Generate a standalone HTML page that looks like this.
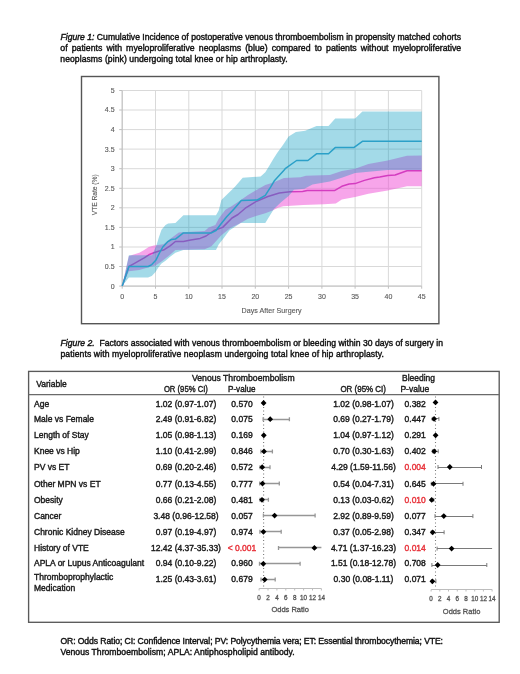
<!DOCTYPE html>
<html><head><meta charset="utf-8"><style>
html,body{margin:0;padding:0;background:#fff;}
body{width:520px;height:674px;overflow:hidden;position:relative;}
svg{position:absolute;left:0;top:0;will-change:transform;}
text{font-family:"Liberation Sans",sans-serif;stroke-width:0.4px;}
</style></head><body>
<svg width="520" height="674" viewBox="0 0 520 674">
<text x="60.5" y="39.8" font-size="8.60" fill="#111" stroke="#111" textLength="400.5" lengthAdjust="spacing" ><tspan font-style="italic">Figure 1:</tspan> Cumulative Incidence of postoperative venous thromboembolism in propensity matched cohorts</text>
<text x="60.3" y="51.0" font-size="8.75" fill="#111" stroke="#111" word-spacing="1.67">of patients with myeloproliferative neoplasms (blue) compared to patients without myeloproliferative</text>
<text x="60.3" y="62.0" font-size="8.60" fill="#111" stroke="#111" textLength="227.4" lengthAdjust="spacing" >neoplasms (pink) undergoing total knee or hip arthroplasty.</text>
<rect x="81.5" y="76.5" width="357.4" height="247.2" fill="#fff" stroke="#555" stroke-width="1.4"/>
<path d="M122.2 286.1H421.7M122.2 266.5H421.7M122.2 247.0H421.7M122.2 227.4H421.7M122.2 207.8H421.7M122.2 188.3H421.7M122.2 168.7H421.7M122.2 149.1H421.7M122.2 129.6H421.7M122.2 110.0H421.7M122.2 90.5H421.7M122.2 90.5V286.1M155.5 90.5V286.1M188.8 90.5V286.1M222.0 90.5V286.1M255.3 90.5V286.1M288.6 90.5V286.1M321.9 90.5V286.1M355.1 90.5V286.1M388.4 90.5V286.1M421.7 90.5V286.1" stroke="#d9d9d9" stroke-width="1" fill="none"/>
<polygon points="122.2,286.1 128.9,256.0 139.3,252.8 144.2,250.1 148.8,247.0 153.8,245.4 163.5,244.2 170.1,239.1 178.8,232.5 204.7,230.9 208.7,227.4 215.4,225.1 218.7,218.8 225.4,209.8 230.7,206.7 238.7,201.6 248.0,194.9 256.0,190.2 265.3,185.1 273.3,182.4 283.9,178.1 300.6,177.3 305.9,175.8 329.8,175.0 341.8,171.1 355.1,168.7 368.4,164.0 387.7,160.5 407.0,155.8 421.7,155.4 421.7,186.3 407.0,186.3 387.7,190.6 368.4,193.8 355.1,196.9 341.8,199.6 335.8,203.5 323.8,204.3 303.2,205.1 283.3,206.3 277.9,207.8 272.6,210.6 265.3,213.3 256.0,216.1 248.0,218.8 238.7,223.9 230.7,227.8 221.4,235.2 211.4,246.2 204.7,249.3 175.4,250.1 170.1,254.8 161.5,261.4 155.5,265.4 148.8,267.3 139.3,270.1 128.9,271.2 122.2,286.1" fill="#f04bd5" fill-opacity="0.5"/>
<polyline points="122.2,286.1 128.9,266.5 134.5,263.4 139.3,260.7 144.2,257.9 148.8,254.8 153.8,252.8 158.5,251.3 163.5,250.1 170.1,245.8 175.4,241.5 183.4,241.5 190.7,239.9 200.1,238.4 206.1,236.0 214.0,230.5 222.7,227.4 232.0,218.0 238.0,214.5 245.3,208.2 256.6,201.2 267.9,196.5 279.3,193.0 289.9,191.8 302.6,191.4 307.2,190.6 334.5,190.6 341.8,186.3 349.1,184.0 355.1,183.6 364.4,180.4 374.4,177.7 379.7,176.9 387.7,175.4 395.1,175.0 407.0,170.7 421.7,170.7" fill="none" stroke="#d43cc0" stroke-width="1.5" stroke-linejoin="round"/>
<polygon points="122.2,286.1 128.9,255.2 152.1,255.2 156.8,244.2 158.8,237.6 161.5,229.8 165.5,225.1 168.1,223.5 175.4,223.1 183.4,215.3 216.0,215.3 218.7,210.6 221.4,200.0 234.7,187.1 242.7,177.7 260.6,176.5 265.3,172.2 269.9,164.8 273.3,158.9 277.3,152.7 283.3,144.4 288.6,136.6 295.9,131.9 305.2,130.8 316.5,126.1 328.5,126.1 335.2,118.6 355.1,118.6 362.4,111.6 421.7,111.6 421.7,169.9 387.7,169.9 355.1,173.0 341.8,177.7 329.8,181.6 312.5,184.4 304.5,188.7 293.9,189.8 288.6,196.1 281.3,202.0 273.9,209.0 265.3,223.1 240.7,223.1 229.3,230.5 223.4,238.4 218.7,244.6 216.0,250.1 183.4,250.1 175.4,252.8 170.1,256.8 165.5,260.7 161.5,263.4 158.5,267.3 155.5,272.0 151.8,275.9 148.0,277.5 128.9,277.5 122.2,286.1" fill="#0098bf" fill-opacity="0.36"/>
<path d="M122.2 90.5V286.1M122.2 286.1H421.7M122.2 286.1h-3M122.2 266.5h-3M122.2 247.0h-3M122.2 227.4h-3M122.2 207.8h-3M122.2 188.3h-3M122.2 168.7h-3M122.2 149.1h-3M122.2 129.6h-3M122.2 110.0h-3M122.2 90.5h-3M122.2 286.1v2.6M155.5 286.1v2.6M188.8 286.1v2.6M222.0 286.1v2.6M255.3 286.1v2.6M288.6 286.1v2.6M321.9 286.1v2.6M355.1 286.1v2.6M388.4 286.1v2.6M421.7 286.1v2.6" stroke="#bfbfbf" stroke-width="1" fill="none"/>
<polyline points="122.2,286.1 128.9,266.5 148.2,266.5 151.8,264.6 155.8,260.3 159.5,252.8 162.8,247.0 167.5,241.9 171.4,239.5 175.4,239.1 183.4,232.9 211.4,232.9 216.0,230.5 220.7,224.3 226.7,216.8 234.0,209.0 241.3,200.4 257.3,200.0 265.3,195.3 270.6,187.1 274.6,180.4 283.3,171.1 285.2,168.7 296.6,160.5 307.9,160.5 316.5,153.8 328.5,153.8 335.2,147.6 353.8,147.6 362.4,141.3 421.7,141.3" fill="none" stroke="#2ba0c8" stroke-width="1.5" stroke-linejoin="round"/>
<text x="114.6" y="288.5" font-size="7.00" fill="#595959" stroke="#595959" style="stroke-width:0.12px" text-anchor="end">0</text>
<text x="114.6" y="268.9" font-size="7.00" fill="#595959" stroke="#595959" style="stroke-width:0.12px" text-anchor="end">0.5</text>
<text x="114.6" y="249.4" font-size="7.00" fill="#595959" stroke="#595959" style="stroke-width:0.12px" text-anchor="end">1</text>
<text x="114.6" y="229.8" font-size="7.00" fill="#595959" stroke="#595959" style="stroke-width:0.12px" text-anchor="end">1.5</text>
<text x="114.6" y="210.2" font-size="7.00" fill="#595959" stroke="#595959" style="stroke-width:0.12px" text-anchor="end">2</text>
<text x="114.6" y="190.7" font-size="7.00" fill="#595959" stroke="#595959" style="stroke-width:0.12px" text-anchor="end">2.5</text>
<text x="114.6" y="171.1" font-size="7.00" fill="#595959" stroke="#595959" style="stroke-width:0.12px" text-anchor="end">3</text>
<text x="114.6" y="151.5" font-size="7.00" fill="#595959" stroke="#595959" style="stroke-width:0.12px" text-anchor="end">3.5</text>
<text x="114.6" y="132.0" font-size="7.00" fill="#595959" stroke="#595959" style="stroke-width:0.12px" text-anchor="end">4</text>
<text x="114.6" y="112.4" font-size="7.00" fill="#595959" stroke="#595959" style="stroke-width:0.12px" text-anchor="end">4.5</text>
<text x="114.6" y="92.9" font-size="7.00" fill="#595959" stroke="#595959" style="stroke-width:0.12px" text-anchor="end">5</text>
<text x="122.2" y="298.8" font-size="7.00" fill="#595959" stroke="#595959" style="stroke-width:0.12px" text-anchor="middle">0</text>
<text x="155.5" y="298.8" font-size="7.00" fill="#595959" stroke="#595959" style="stroke-width:0.12px" text-anchor="middle">5</text>
<text x="188.8" y="298.8" font-size="7.00" fill="#595959" stroke="#595959" style="stroke-width:0.12px" text-anchor="middle">10</text>
<text x="222.0" y="298.8" font-size="7.00" fill="#595959" stroke="#595959" style="stroke-width:0.12px" text-anchor="middle">15</text>
<text x="255.3" y="298.8" font-size="7.00" fill="#595959" stroke="#595959" style="stroke-width:0.12px" text-anchor="middle">20</text>
<text x="288.6" y="298.8" font-size="7.00" fill="#595959" stroke="#595959" style="stroke-width:0.12px" text-anchor="middle">25</text>
<text x="321.9" y="298.8" font-size="7.00" fill="#595959" stroke="#595959" style="stroke-width:0.12px" text-anchor="middle">30</text>
<text x="355.1" y="298.8" font-size="7.00" fill="#595959" stroke="#595959" style="stroke-width:0.12px" text-anchor="middle">35</text>
<text x="388.4" y="298.8" font-size="7.00" fill="#595959" stroke="#595959" style="stroke-width:0.12px" text-anchor="middle">40</text>
<text x="421.7" y="298.8" font-size="7.00" fill="#595959" stroke="#595959" style="stroke-width:0.12px" text-anchor="middle">45</text>
<text x="271.6" y="312.7" font-size="7.1" fill="#595959" stroke="#595959" style="stroke-width:0.12px" text-anchor="middle" textLength="60" lengthAdjust="spacing">Days After Surgery</text>
<text transform="translate(97.2,194.8) rotate(-90)" x="0" y="0" font-size="6.7" fill="#595959" stroke="#595959" style="stroke-width:0.12px" text-anchor="middle" textLength="41" lengthAdjust="spacing">VTE Rate (%)</text>
<text x="60.6" y="345.9" font-size="8.60" fill="#111" stroke="#111" textLength="382.4" lengthAdjust="spacing" xml:space="preserve"><tspan font-style="italic">Figure 2.</tspan>  Factors associated with venous thromboembolism or bleeding within 30 days of surgery in</text>
<text x="60.4" y="356.9" font-size="8.60" fill="#111" stroke="#111" textLength="323.5" lengthAdjust="spacing" >patients with myeloproliferative neoplasm undergoing total knee of hip arthroplasty.</text>
<rect x="28.6" y="371.4" width="470.6" height="250.9" fill="none" stroke="#5a5a5a" stroke-width="1.35"/>
<path d="M28.6 394.7H499.2" stroke="#6a6a6a" stroke-width="1.2"/>
<text x="36.2" y="386.6" font-size="8.50" fill="#1a1a1a" stroke="#1a1a1a" text-anchor="start">Variable</text>
<text x="192.0" y="380.6" font-size="8.50" fill="#1a1a1a" stroke="#1a1a1a" text-anchor="start" textLength="102.6" lengthAdjust="spacingAndGlyphs">Venous Thromboembolism</text>
<text x="163.9" y="391.8" font-size="8.50" fill="#1a1a1a" stroke="#1a1a1a" text-anchor="start" textLength="44.0" lengthAdjust="spacingAndGlyphs">OR (95% CI)</text>
<text x="228.0" y="391.8" font-size="8.50" fill="#1a1a1a" stroke="#1a1a1a" text-anchor="start" textLength="27.5" lengthAdjust="spacingAndGlyphs">P-value</text>
<text x="402.0" y="380.6" font-size="8.50" fill="#1a1a1a" stroke="#1a1a1a" text-anchor="start" textLength="33.0" lengthAdjust="spacingAndGlyphs">Bleeding</text>
<text x="340.4" y="391.8" font-size="8.50" fill="#1a1a1a" stroke="#1a1a1a" text-anchor="start" textLength="45.6" lengthAdjust="spacingAndGlyphs">OR (95% CI)</text>
<text x="400.4" y="391.8" font-size="8.50" fill="#1a1a1a" stroke="#1a1a1a" text-anchor="start" textLength="28.9" lengthAdjust="spacingAndGlyphs">P-value</text>
<text x="34.0" y="406.6" font-size="8.50" fill="#1a1a1a" stroke="#1a1a1a" text-anchor="start">Age</text>
<text x="186.0" y="406.6" font-size="8.50" fill="#1a1a1a" stroke="#1a1a1a" text-anchor="middle">1.02 (0.97-1.07)</text>
<text x="242.0" y="406.6" font-size="8.50" fill="#1a1a1a" stroke="#1a1a1a" text-anchor="middle">0.570</text>
<text x="363.5" y="406.6" font-size="8.50" fill="#1a1a1a" stroke="#1a1a1a" text-anchor="middle">1.02 (0.98-1.07)</text>
<text x="415.2" y="406.6" font-size="8.50" fill="#1a1a1a" stroke="#1a1a1a" text-anchor="middle">0.382</text>
<text x="34.0" y="422.0" font-size="8.50" fill="#1a1a1a" stroke="#1a1a1a" text-anchor="start">Male vs Female</text>
<text x="186.0" y="422.0" font-size="8.50" fill="#1a1a1a" stroke="#1a1a1a" text-anchor="middle">2.49 (0.91-6.82)</text>
<text x="242.0" y="422.0" font-size="8.50" fill="#1a1a1a" stroke="#1a1a1a" text-anchor="middle">0.075</text>
<text x="363.5" y="422.0" font-size="8.50" fill="#1a1a1a" stroke="#1a1a1a" text-anchor="middle">0.69 (0.27-1.79)</text>
<text x="415.2" y="422.0" font-size="8.50" fill="#1a1a1a" stroke="#1a1a1a" text-anchor="middle">0.447</text>
<text x="34.0" y="438.4" font-size="8.50" fill="#1a1a1a" stroke="#1a1a1a" text-anchor="start">Length of Stay</text>
<text x="186.0" y="438.4" font-size="8.50" fill="#1a1a1a" stroke="#1a1a1a" text-anchor="middle">1.05 (0.98-1.13)</text>
<text x="242.0" y="438.4" font-size="8.50" fill="#1a1a1a" stroke="#1a1a1a" text-anchor="middle">0.169</text>
<text x="363.5" y="438.4" font-size="8.50" fill="#1a1a1a" stroke="#1a1a1a" text-anchor="middle">1.04 (0.97-1.12)</text>
<text x="415.2" y="438.4" font-size="8.50" fill="#1a1a1a" stroke="#1a1a1a" text-anchor="middle">0.291</text>
<text x="34.0" y="454.3" font-size="8.50" fill="#1a1a1a" stroke="#1a1a1a" text-anchor="start">Knee vs Hip</text>
<text x="186.0" y="454.3" font-size="8.50" fill="#1a1a1a" stroke="#1a1a1a" text-anchor="middle">1.10 (0.41-2.99)</text>
<text x="242.0" y="454.3" font-size="8.50" fill="#1a1a1a" stroke="#1a1a1a" text-anchor="middle">0.846</text>
<text x="363.5" y="454.3" font-size="8.50" fill="#1a1a1a" stroke="#1a1a1a" text-anchor="middle">0.70 (0.30-1.63)</text>
<text x="415.2" y="454.3" font-size="8.50" fill="#1a1a1a" stroke="#1a1a1a" text-anchor="middle">0.402</text>
<text x="34.0" y="470.3" font-size="8.50" fill="#1a1a1a" stroke="#1a1a1a" text-anchor="start">PV vs ET</text>
<text x="186.0" y="470.3" font-size="8.50" fill="#1a1a1a" stroke="#1a1a1a" text-anchor="middle">0.69 (0.20-2.46)</text>
<text x="242.0" y="470.3" font-size="8.50" fill="#1a1a1a" stroke="#1a1a1a" text-anchor="middle">0.572</text>
<text x="363.5" y="470.3" font-size="8.50" fill="#1a1a1a" stroke="#1a1a1a" text-anchor="middle">4.29 (1.59-11.56)</text>
<text x="415.2" y="470.3" font-size="8.50" fill="#e8333b" stroke="#e8333b" text-anchor="middle">0.004</text>
<text x="34.0" y="486.5" font-size="8.50" fill="#1a1a1a" stroke="#1a1a1a" text-anchor="start">Other MPN vs ET</text>
<text x="186.0" y="486.5" font-size="8.50" fill="#1a1a1a" stroke="#1a1a1a" text-anchor="middle">0.77 (0.13-4.55)</text>
<text x="242.0" y="486.5" font-size="8.50" fill="#1a1a1a" stroke="#1a1a1a" text-anchor="middle">0.777</text>
<text x="363.5" y="486.5" font-size="8.50" fill="#1a1a1a" stroke="#1a1a1a" text-anchor="middle">0.54 (0.04-7.31)</text>
<text x="415.2" y="486.5" font-size="8.50" fill="#1a1a1a" stroke="#1a1a1a" text-anchor="middle">0.645</text>
<text x="34.0" y="502.6" font-size="8.50" fill="#1a1a1a" stroke="#1a1a1a" text-anchor="start">Obesity</text>
<text x="186.0" y="502.6" font-size="8.50" fill="#1a1a1a" stroke="#1a1a1a" text-anchor="middle">0.66 (0.21-2.08)</text>
<text x="242.0" y="502.6" font-size="8.50" fill="#1a1a1a" stroke="#1a1a1a" text-anchor="middle">0.481</text>
<text x="363.5" y="502.6" font-size="8.50" fill="#1a1a1a" stroke="#1a1a1a" text-anchor="middle">0.13 (0.03-0.62)</text>
<text x="415.2" y="502.6" font-size="8.50" fill="#e8333b" stroke="#e8333b" text-anchor="middle">0.010</text>
<text x="34.0" y="518.6" font-size="8.50" fill="#1a1a1a" stroke="#1a1a1a" text-anchor="start">Cancer</text>
<text x="186.0" y="518.6" font-size="8.50" fill="#1a1a1a" stroke="#1a1a1a" text-anchor="middle">3.48 (0.96-12.58)</text>
<text x="242.0" y="518.6" font-size="8.50" fill="#1a1a1a" stroke="#1a1a1a" text-anchor="middle">0.057</text>
<text x="363.5" y="518.6" font-size="8.50" fill="#1a1a1a" stroke="#1a1a1a" text-anchor="middle">2.92 (0.89-9.59)</text>
<text x="415.2" y="518.6" font-size="8.50" fill="#1a1a1a" stroke="#1a1a1a" text-anchor="middle">0.077</text>
<text x="34.0" y="534.5" font-size="8.50" fill="#1a1a1a" stroke="#1a1a1a" text-anchor="start">Chronic Kidney Disease</text>
<text x="186.0" y="534.5" font-size="8.50" fill="#1a1a1a" stroke="#1a1a1a" text-anchor="middle">0.97 (0.19-4.97)</text>
<text x="242.0" y="534.5" font-size="8.50" fill="#1a1a1a" stroke="#1a1a1a" text-anchor="middle">0.974</text>
<text x="363.5" y="534.5" font-size="8.50" fill="#1a1a1a" stroke="#1a1a1a" text-anchor="middle">0.37 (0.05-2.98)</text>
<text x="415.2" y="534.5" font-size="8.50" fill="#1a1a1a" stroke="#1a1a1a" text-anchor="middle">0.347</text>
<text x="34.0" y="550.7" font-size="8.50" fill="#1a1a1a" stroke="#1a1a1a" text-anchor="start">History of VTE</text>
<text x="186.0" y="550.7" font-size="8.50" fill="#1a1a1a" stroke="#1a1a1a" text-anchor="middle">12.42 (4.37-35.33)</text>
<text x="242.0" y="550.7" font-size="8.50" fill="#e8333b" stroke="#e8333b" text-anchor="middle">&lt; 0.001</text>
<text x="363.5" y="550.7" font-size="8.50" fill="#1a1a1a" stroke="#1a1a1a" text-anchor="middle">4.71 (1.37-16.23)</text>
<text x="415.2" y="550.7" font-size="8.50" fill="#e8333b" stroke="#e8333b" text-anchor="middle">0.014</text>
<text x="34.0" y="565.5" font-size="8.50" fill="#1a1a1a" stroke="#1a1a1a" text-anchor="start">APLA or Lupus Anticoagulant</text>
<text x="186.0" y="565.5" font-size="8.50" fill="#1a1a1a" stroke="#1a1a1a" text-anchor="middle">0.94 (0.10-9.22)</text>
<text x="242.0" y="565.5" font-size="8.50" fill="#1a1a1a" stroke="#1a1a1a" text-anchor="middle">0.960</text>
<text x="363.5" y="565.5" font-size="8.50" fill="#1a1a1a" stroke="#1a1a1a" text-anchor="middle">1.51 (0.18-12.78)</text>
<text x="415.2" y="565.5" font-size="8.50" fill="#1a1a1a" stroke="#1a1a1a" text-anchor="middle">0.708</text>
<text x="34.0" y="579.9" font-size="8.50" fill="#1a1a1a" stroke="#1a1a1a" text-anchor="start">Thromboprophylactic</text>
<text x="34.0" y="591.4" font-size="8.50" fill="#1a1a1a" stroke="#1a1a1a" text-anchor="start">Medication</text>
<text x="186.0" y="582.3" font-size="8.50" fill="#1a1a1a" stroke="#1a1a1a" text-anchor="middle">1.25 (0.43-3.61)</text>
<text x="242.0" y="582.3" font-size="8.50" fill="#1a1a1a" stroke="#1a1a1a" text-anchor="middle">0.679</text>
<text x="363.5" y="582.3" font-size="8.50" fill="#1a1a1a" stroke="#1a1a1a" text-anchor="middle">0.30 (0.08-1.11)</text>
<text x="415.2" y="582.3" font-size="8.50" fill="#1a1a1a" stroke="#1a1a1a" text-anchor="middle">0.071</text>
<path d="M263.6 396.5V588M435.5 396.5V589" stroke="#7a7a7a" stroke-width="1.1" stroke-dasharray="1.1,2.4"/>
<path d="M263.4 403.5H263.9M263.4 401.0V405.0M263.9 401.0V405.0M263.1 419.5H289.4M263.1 417.2V421.2M289.4 417.2V421.2M263.5 435.5H264.1M263.5 433.3V437.3M264.1 433.3V437.3M260.9 451.5H272.4M260.9 449.4V453.4M272.4 449.4V453.4M260.0 467.5H270.0M260.0 465.2V469.2M270.0 465.2V469.2M259.7 483.5H279.3M259.7 481.6V485.6M279.3 481.6V485.6M260.0 499.5H268.4M260.0 497.8V501.8M268.4 497.8V501.8M263.4 515.5H315.1M263.4 513.6V517.6M315.1 513.6V517.6M259.9 531.5H281.2M259.9 529.8V533.8M281.2 529.8V533.8M278.5 547.5H321.4M278.5 545.9V549.9M259.5 563.5H300.1M259.5 561.8V565.8M300.1 561.8V565.8M261.0 579.5H275.2M261.0 577.6V581.6M275.2 577.6V581.6" stroke="#969696" stroke-width="1.3" fill="none"/>
<path d="M435.4 402.5H435.8M435.4 400.4V404.4M435.8 400.4V404.4M432.3 418.5H438.9M432.3 416.9V420.9M438.9 416.9V420.9M435.3 435.5H436.0M435.3 433.3V437.3M436.0 433.3V437.3M432.4 451.5H438.2M432.4 449.3V453.3M438.2 449.3V453.3M438.0 467.5H481.5M438.0 465.0V469.0M481.5 465.0V469.0M431.3 483.5H463.0M431.3 481.8V485.8M463.0 481.8V485.8M431.2 499.5H433.8M431.2 497.9V501.9M433.8 497.9V501.9M435.0 516.5H472.9M435.0 514.1V518.1M472.9 514.1V518.1M431.3 532.5H444.1M431.3 530.3V534.3M444.1 530.3V534.3M437.1 548.5H492.1M437.1 546.6V550.6M431.9 565.5H486.8M431.9 563.0V567.0M486.8 563.0V567.0M431.4 581.5H435.9M431.4 579.3V583.3M435.9 579.3V583.3" stroke="#7a7a7a" stroke-width="1.0" fill="none"/>
<path d="M263.6 400.1l2.9 2.9l-2.9 2.9l-2.9 -2.9zM435.5 399.5l2.9 2.9l-2.9 2.9l-2.9 -2.9zM270.2 416.3l2.9 2.9l-2.9 2.9l-2.9 -2.9zM434.1 416.0l2.9 2.9l-2.9 2.9l-2.9 -2.9zM263.8 432.4l2.9 2.9l-2.9 2.9l-2.9 -2.9zM435.6 432.4l2.9 2.9l-2.9 2.9l-2.9 -2.9zM264.0 448.5l2.9 2.9l-2.9 2.9l-2.9 -2.9zM434.2 448.4l2.9 2.9l-2.9 2.9l-2.9 -2.9zM262.2 464.3l2.9 2.9l-2.9 2.9l-2.9 -2.9zM449.8 464.1l2.9 2.9l-2.9 2.9l-2.9 -2.9zM262.5 480.7l2.9 2.9l-2.9 2.9l-2.9 -2.9zM433.5 480.9l2.9 2.9l-2.9 2.9l-2.9 -2.9zM262.0 496.9l2.9 2.9l-2.9 2.9l-2.9 -2.9zM431.7 497.0l2.9 2.9l-2.9 2.9l-2.9 -2.9zM274.6 512.7l2.9 2.9l-2.9 2.9l-2.9 -2.9zM443.8 513.2l2.9 2.9l-2.9 2.9l-2.9 -2.9zM263.4 528.9l2.9 2.9l-2.9 2.9l-2.9 -2.9zM432.7 529.4l2.9 2.9l-2.9 2.9l-2.9 -2.9zM314.4 545.0l2.9 2.9l-2.9 2.9l-2.9 -2.9zM451.6 545.7l2.9 2.9l-2.9 2.9l-2.9 -2.9zM263.3 560.9l2.9 2.9l-2.9 2.9l-2.9 -2.9zM437.7 562.1l2.9 2.9l-2.9 2.9l-2.9 -2.9zM264.7 576.7l2.9 2.9l-2.9 2.9l-2.9 -2.9zM432.4 578.4l2.9 2.9l-2.9 2.9l-2.9 -2.9z" fill="#000"/>
<path d="M259.1 588.5H321.4M259.1 588.5V590.5M268.0 588.5V590.5M276.9 588.5V590.5M285.8 588.5V590.5M294.7 588.5V590.5M303.6 588.5V590.5M312.5 588.5V590.5M321.4 588.5V590.5" stroke="#bdbdbd" stroke-width="1" fill="none"/>
<text x="259.1" y="599.6" font-size="6.30" fill="#555555" stroke="#555555" style="stroke-width:0.3px" text-anchor="middle">0</text>
<text x="268.0" y="599.6" font-size="6.30" fill="#555555" stroke="#555555" style="stroke-width:0.3px" text-anchor="middle">2</text>
<text x="276.9" y="599.6" font-size="6.30" fill="#555555" stroke="#555555" style="stroke-width:0.3px" text-anchor="middle">4</text>
<text x="285.8" y="599.6" font-size="6.30" fill="#555555" stroke="#555555" style="stroke-width:0.3px" text-anchor="middle">6</text>
<text x="294.7" y="599.6" font-size="6.30" fill="#555555" stroke="#555555" style="stroke-width:0.3px" text-anchor="middle">8</text>
<text x="303.6" y="599.6" font-size="6.30" fill="#555555" stroke="#555555" style="stroke-width:0.3px" text-anchor="middle">10</text>
<text x="312.5" y="599.6" font-size="6.30" fill="#555555" stroke="#555555" style="stroke-width:0.3px" text-anchor="middle">12</text>
<text x="321.4" y="599.6" font-size="6.30" fill="#555555" stroke="#555555" style="stroke-width:0.3px" text-anchor="middle">14</text>
<text x="290.2" y="612.4" font-size="7.50" fill="#555555" stroke="#555555" style="stroke-width:0.3px" text-anchor="middle">Odds Ratio</text>
<path d="M431.1 589.5H492.1M431.1 589.5V591.5M439.8 589.5V591.5M448.5 589.5V591.5M457.3 589.5V591.5M466.0 589.5V591.5M474.7 589.5V591.5M483.4 589.5V591.5M492.1 589.5V591.5" stroke="#bdbdbd" stroke-width="1" fill="none"/>
<text x="431.1" y="601.0" font-size="6.30" fill="#555555" stroke="#555555" style="stroke-width:0.3px" text-anchor="middle">0</text>
<text x="439.8" y="601.0" font-size="6.30" fill="#555555" stroke="#555555" style="stroke-width:0.3px" text-anchor="middle">2</text>
<text x="448.5" y="601.0" font-size="6.30" fill="#555555" stroke="#555555" style="stroke-width:0.3px" text-anchor="middle">4</text>
<text x="457.3" y="601.0" font-size="6.30" fill="#555555" stroke="#555555" style="stroke-width:0.3px" text-anchor="middle">6</text>
<text x="466.0" y="601.0" font-size="6.30" fill="#555555" stroke="#555555" style="stroke-width:0.3px" text-anchor="middle">8</text>
<text x="474.7" y="601.0" font-size="6.30" fill="#555555" stroke="#555555" style="stroke-width:0.3px" text-anchor="middle">10</text>
<text x="483.4" y="601.0" font-size="6.30" fill="#555555" stroke="#555555" style="stroke-width:0.3px" text-anchor="middle">12</text>
<text x="492.1" y="601.0" font-size="6.30" fill="#555555" stroke="#555555" style="stroke-width:0.3px" text-anchor="middle">14</text>
<text x="461.6" y="613.6" font-size="7.50" fill="#555555" stroke="#555555" style="stroke-width:0.3px" text-anchor="middle">Odds Ratio</text>
<text x="60.4" y="643.8" font-size="8.60" fill="#111" stroke="#111" textLength="382.6" lengthAdjust="spacing" >OR: Odds Ratio; CI: Confidence Interval; PV: Polycythemia vera; ET: Essential thrombocythemia; VTE:</text>
<text x="60.4" y="654.8" font-size="8.60" fill="#111" stroke="#111" textLength="234.3" lengthAdjust="spacing" >Venous Thromboembolism; APLA: Antiphospholipid antibody.</text>
</svg>
</body></html>
